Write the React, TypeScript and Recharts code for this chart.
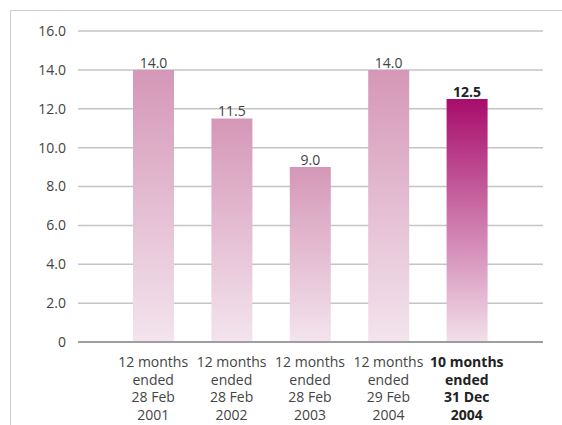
import React from 'react';
import { BarChart, Bar, XAxis, YAxis, CartesianGrid, LabelList, Cell } from 'recharts';

// ── Period results bar chart, last (shorter) period highlighted

const PERIOD_LINES = [
  ['12 months', 'ended', '28 Feb', '2001'],
  ['12 months', 'ended', '28 Feb', '2002'],
  ['12 months', 'ended', '28 Feb', '2003'],
  ['12 months', 'ended', '29 Feb', '2004'],
  ['10 months', 'ended', '31 Dec', '2004'],
];
const VALUES = [14.0, 11.5, 9.0, 14.0, 12.5];
const Y_TICKS = [0, 2, 4, 6, 8, 10, 12, 14, 16];

const data = PERIOD_LINES.map((lines, i) => ({ key: String(i), value: VALUES[i] }));
const LAST = VALUES.length - 1;

const FONT = '"Open Sans", "Noto Sans", sans-serif';

const PeriodTick = (props: any) => {
  const { x, y, payload } = props;
  const idx = Number(payload.value);
  const lines = PERIOD_LINES[idx] || [];
  const bold = idx === LAST;
  return (
    <text x={x} y={y} textAnchor="middle" fontFamily={FONT} fontSize={14} fill={bold ? '#222' : '#444'} fontWeight={bold ? 700 : 400}>
      {lines.map((l, i) => (
        <tspan key={i} x={x} dy={i === 0 ? 17 : 17.7}>{l}</tspan>
      ))}
    </text>
  );
};

const ValueLabel = (props: any) => {
  const { x, y, width, value, index } = props;
  const bold = index === LAST;
  return (
    <text x={x + width / 2} y={y - 2} textAnchor="middle" fontFamily={FONT} fontSize={14} fill={bold ? '#222' : '#444'} fontWeight={bold ? 700 : 400}>
      {Number(value).toFixed(1)}
    </text>
  );
};

export default function App() {
  return (
    <div style={{ position: 'absolute', left: 0, top: 0, width: 562, height: 425, background: '#fff' }}>
      <div style={{ position: 'absolute', left: 10, top: 10, right: 0, bottom: 0, borderTop: '1.5px solid #cfcfcf', borderLeft: '1.5px solid #cfcfcf' }} />
      <BarChart width={562} height={425} data={data} margin={{ top: 31, right: 19, left: 0, bottom: 0 }} barSize={41}>
        <defs>
          <linearGradient id="barSoft" x1="0" y1="0" x2="0" y2="1">
            <stop offset="0%" stopColor="#d597b7" />
            <stop offset="100%" stopColor="#f3e4ed" />
          </linearGradient>
          <linearGradient id="barStrong" x1="0" y1="0" x2="0" y2="1">
            <stop offset="0%" stopColor="#a80c6c" />
            <stop offset="100%" stopColor="#f2e0ea" />
          </linearGradient>
        </defs>
        <CartesianGrid vertical={false} stroke="#c4c4c4" strokeWidth={1.5} />
        <XAxis
          dataKey="key"
          height={83}
          padding={{ left: 36, right: 37 }}
          tick={<PeriodTick />}
          tickLine={false}
          axisLine={{ stroke: '#9e9e9e', strokeWidth: 2 }}
          interval={0}
        />
        <YAxis
          width={78}
          domain={[0, 16]}
          ticks={Y_TICKS}
          tickFormatter={(v: number) => (v === 0 ? '0' : v.toFixed(1))}
          tick={{ fontSize: 14, fill: '#444', fontFamily: FONT }}
          tickLine={false}
          axisLine={false}
          tickMargin={6}
        />
        <Bar dataKey="value" isAnimationActive={false}>
          {VALUES.map((_, i) => (
            <Cell key={i} fill={i === LAST ? 'url(#barStrong)' : 'url(#barSoft)'} />
          ))}
          <LabelList dataKey="value" content={<ValueLabel />} />
        </Bar>
      </BarChart>
    </div>
  );
}
